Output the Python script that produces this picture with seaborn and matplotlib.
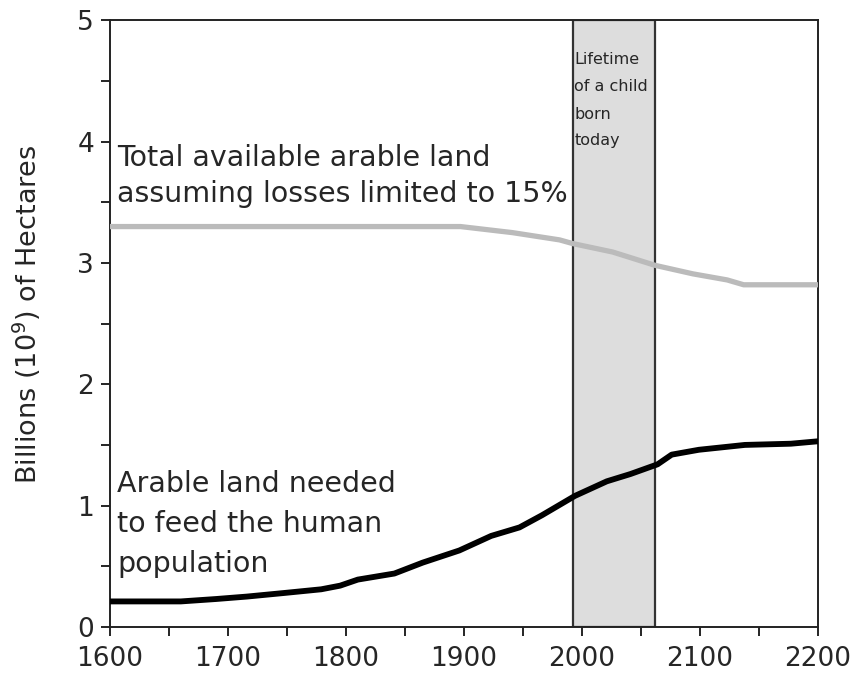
import numpy as np
import pandas as pd
import matplotlib
matplotlib.use("Agg")
import matplotlib.pyplot as plt
import seaborn as sns
from matplotlib.ticker import MultipleLocator

# Arable land needed to feed the human population (billions of ha)
need_years = [1600, 1660, 1690, 1716, 1748, 1779, 1795, 1810, 1841, 1865,
              1896, 1923, 1947, 1966, 1994, 2021, 2041, 2064, 2076, 2099,
              2138, 2177, 2200]
need_land = [0.21, 0.21, 0.23, 0.25, 0.28, 0.31, 0.34, 0.39, 0.44, 0.53,
             0.63, 0.75, 0.82, 0.92, 1.08, 1.20, 1.26, 1.34, 1.42, 1.46,
             1.50, 1.51, 1.53]

# Total available arable land assuming losses limited to 15%
avail_years = [1600, 1897, 1941, 1981, 1992, 2026, 2062, 2094, 2123, 2137, 2200]
avail_land = [3.30, 3.30, 3.25, 3.19, 3.16, 3.09, 2.98, 2.91, 2.86, 2.82, 2.82]

# lifetime window
child_span = [1992, 2062]

avail_label = ['Total available arable land', 'assuming losses limited to 15%']
need_label = ['Arable land needed', 'to feed the human', 'population']
span_label = ['Lifetime', 'of a child', 'born', 'today']

sns.set_style("ticks")
plt.rcParams['font.family'] = ['DejaVu Sans']

fig = plt.figure(figsize=(8.53, 6.77), dpi=100)
ax = fig.add_axes([0.129, 0.074, 0.830, 0.896])

ax.axvspan(child_span[0], child_span[1], facecolor='#dddddd',
           edgecolor='#333333', linewidth=1.6, zorder=1)

sns.lineplot(x=avail_years, y=avail_land, color='#bbbbbb', linewidth=3.8,
             ax=ax, zorder=3)
sns.lineplot(x=need_years, y=need_land, color='black', linewidth=4.2,
             ax=ax, zorder=3)

ax.set_xlim(1600, 2200)
ax.set_ylim(0, 5)
ax.xaxis.set_major_locator(MultipleLocator(100))
ax.xaxis.set_minor_locator(MultipleLocator(50))
ax.yaxis.set_major_locator(MultipleLocator(1))
ax.yaxis.set_minor_locator(MultipleLocator(0.5))
ax.tick_params(which='both', direction='out', length=6.5, width=1.2,
               color='black', labelsize=19, pad=5)
ax.tick_params(axis='x', pad=7)
for s in ax.spines.values():
    s.set_linewidth(1.4)
    s.set_color('#222222')

ax.set_ylabel('Billions (10$^9$) of Hectares', fontsize=19.5)
ax.yaxis.set_label_coords(-0.095, 0.515)
ax.set_xlabel('')

# annotation lines placed by baseline (in data units)
for txt, yv in zip(avail_label, [3.80, 3.50]):
    ax.text(1606, yv, txt, fontsize=20.5, va='baseline', ha='left', zorder=4)
for txt, yv in zip(need_label, [1.11, 0.78, 0.45]):
    ax.text(1606, yv, txt, fontsize=20.5, va='baseline', ha='left', zorder=4)
for txt, yv in zip(span_label, [4.64, 4.415, 4.19, 3.97]):
    ax.text(1993.5, yv, txt, fontsize=11.5, va='baseline', ha='left',
            zorder=4)

fig.savefig('out.png', dpi=100)
